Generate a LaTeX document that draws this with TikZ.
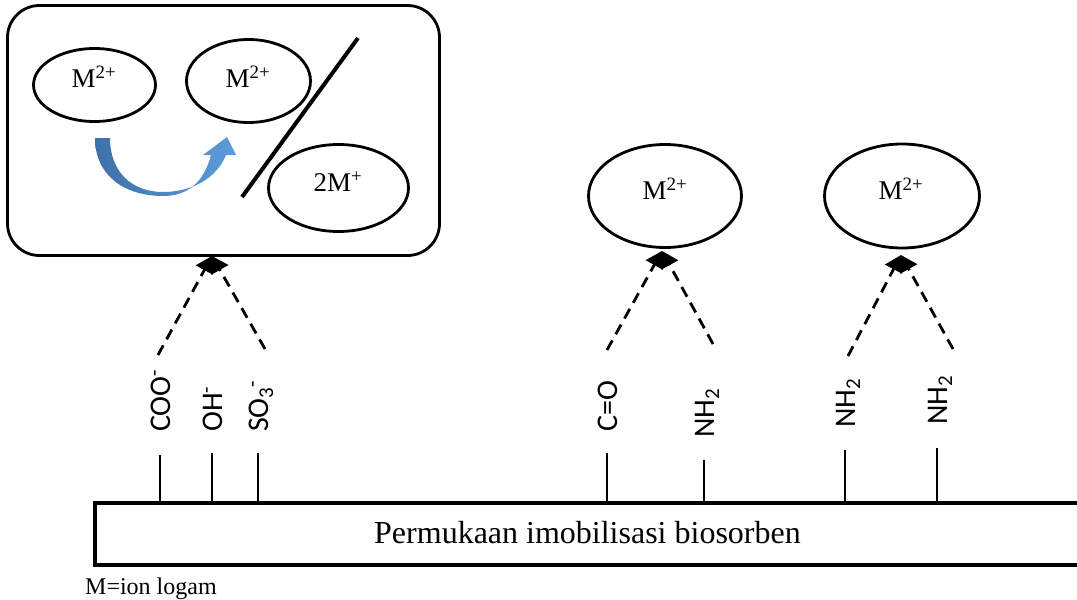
\documentclass[tikz,border=0pt]{standalone}
\usepackage{fontspec}
\setmainfont{Liberation Serif}
\newfontfamily\labfont{Carlito}
\usetikzlibrary{arrows.meta,shapes.geometric,calc}
\definecolor{arrowdark}{HTML}{3F70AA}
\definecolor{arrowlight}{HTML}{5E9DDA}
\begin{document}
\begin{tikzpicture}[x=1pt,y=-1pt,
 ell/.style={draw, ellipse, line width=2.8pt, inner sep=0pt},
 ion/.style={font=\fontsize{27}{31}\selectfont, inner sep=0pt},
 grp/.style={rotate=90, anchor=base west, font=\labfont\fontsize{30}{34}\selectfont, inner sep=0pt},
 pinline/.style={line width=1.4pt},
 bond/.style={dash pattern=on 11pt off 7pt, line width=2.8pt, -{Triangle[length=16pt,width=19pt]}},
]
\useasboundingbox (0,0) rectangle (1077,600);

% top-left rounded box
\node[draw, line width=2.8pt, rounded corners=32pt, minimum width=432pt, minimum height=250pt, inner sep=0pt] (box) at (223.5,130.5) {};

% ellipses
\node[ell, minimum width=122pt, minimum height=73pt] (e1) at (94.5,85) {};
\node[ion] (t1) at (94,77) {M\textsuperscript{2+}};
\node[ell, minimum width=124pt, minimum height=83pt] (e2) at (248.5,81) {};
\node[ion] (t2) at (248,77) {M\textsuperscript{2+}};
\node[ell, minimum width=140pt, minimum height=87pt] (e3) at (338.5,188) {};
\node[ion] (t3) at (338,182) {2M\textsuperscript{+}};
\node[ell, minimum width=153pt, minimum height=103pt] (e4) at (665,196) {};
\node[ion] (t4) at (665,189) {M\textsuperscript{2+}};
\node[ell, minimum width=155pt, minimum height=104pt] (e5) at (902,196) {};
\node[ion] (t5) at (901,189) {M\textsuperscript{2+}};

% slash
\coordinate (s1) at (358,38);
\coordinate (s2) at (242,197);
\draw[line width=4pt] (s1) -- (s2);

% curved blue arrow
\shade[left color=arrowdark, right color=arrowlight]
  (95,138) .. controls (95,176) and (125,196) .. (163,196)
  .. controls (188,196) and (204,182) .. (211,155)
  -- (203,155) -- (227,137) -- (236,155) -- (226,155)
  .. controls (217,178) and (192,192) .. (163,192)
  .. controls (132,192) and (110,172) .. (110,138) -- cycle;

% bottom surface
\node[font=\fontsize{32}{37}\selectfont, inner sep=0pt] (surf) at (587.5,533) {Permukaan imobilisasi biosorben};
\draw[line width=3.2pt] (1080,503) -- (95,503) -- (95,565) -- (1080,565);
\node[font=\fontsize{24}{28}\selectfont, anchor=base west, inner sep=0pt] (note) at (85,594) {M=ion logam};

% pins
\foreach \n/\x/\t in {p1/160/455, p2/212/453, p3/258/453, p4/607/453, p5/704/460, p6/845/450, p7/937/448}{
  \coordinate (\n top) at (\x,\t);
  \coordinate (\n bot) at (\x,503);
  \draw[pinline] (\n top) -- (\n bot);
}

% group labels
\node[grp] (l1) at (170,432) {COO\textsuperscript{-}};
\node[grp] (l2) at (222,432) {OH\textsuperscript{-}};
\node[grp] (l3) at (268,432) {SO\textsubscript{3}\textsuperscript{-}};
\node[grp] (l4) at (617,432) {C=O};
\node[grp] (l5) at (714,438) {NH\textsubscript{2}};
\node[grp] (l6) at (855,428) {NH\textsubscript{2}};
\node[grp] (l7) at (947,425) {NH\textsubscript{2}};

% dashed bonds
\coordinate (tipA) at (212,256);
\coordinate (tipB) at (662,251);
\coordinate (tipC) at (901,255);
\coordinate (a1) at (158,355);
\coordinate (a2) at (265,349);
\coordinate (b1) at (607,350);
\coordinate (b2) at (713,344);
\coordinate (c1) at (848,356);
\coordinate (c2) at (953,349);
\draw[bond] (a1) -- (tipA);
\draw[bond] (a2) -- (tipA);
\draw[bond] (b1) -- (tipB);
\draw[bond] (b2) -- (tipB);
\draw[bond] (c1) -- (tipC);
\draw[bond] (c2) -- (tipC);
\end{tikzpicture}
\end{document}
